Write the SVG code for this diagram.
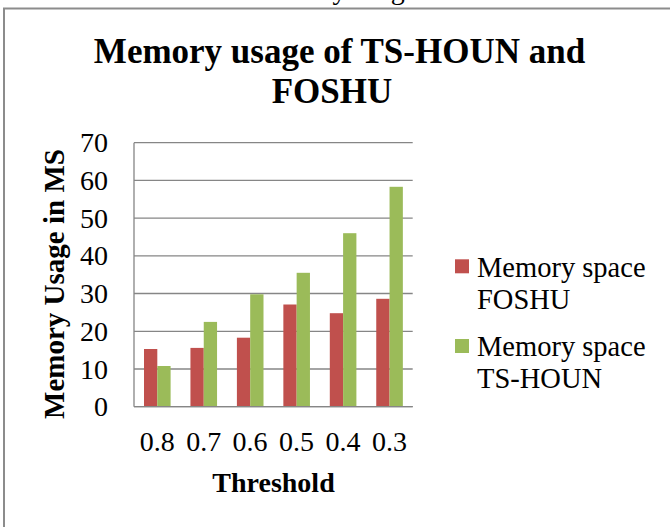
<svg xmlns="http://www.w3.org/2000/svg" width="670" height="527" viewBox="0 0 670 527">
<style>
.t{font-family:"Liberation Serif","Times New Roman",serif;fill:#000}
.b{font-weight:bold}
.grid{stroke:#868686;stroke-width:1.3;fill:none}
.red{fill:#C0504D}
.green{fill:#9BBB59}
</style>
<rect width="670" height="527" fill="#fff"/>
<text class="t" x="250" y="-1.5" font-size="28">Memory usage</text>
<rect x="0" y="8.5" width="670" height="519" fill="#fff"/>
<path d="M4,540 V8.5 H680" fill="none" stroke="#8c8c8c" stroke-width="2"/>
<g id="title">
<text class="t b" x="339.5" y="63" font-size="35" text-anchor="middle">Memory usage of TS-HOUN and</text>
<text class="t b" x="332" y="103" font-size="35" text-anchor="middle">FOSHU</text>
</g>
<g id="gridlines">
<path class="grid" d="M134,142.7H412.7M134,180.4H412.7M134,218.1H412.7M134,255.8H412.7M134,293.5H412.7M134,331.3H412.7M134,369H412.7M134,406.7H412.7M134,142.7V406.7"/>
</g>
<g id="y-labels" class="t" font-size="28" text-anchor="end">
<text x="108" y="152.2">70</text>
<text x="108" y="189.9">60</text>
<text x="108" y="227.6">50</text>
<text x="108" y="265.3">40</text>
<text x="108" y="303">30</text>
<text x="108" y="340.8">20</text>
<text x="108" y="378.5">10</text>
<text x="108" y="416.2">0</text>
</g>
<g id="series-foshu" class="red">
<rect x="144" y="349.0" width="13.3" height="57.7"/>
<rect x="190.45" y="347.9" width="13.3" height="58.8"/>
<rect x="236.9" y="337.7" width="13.3" height="69.0"/>
<rect x="283.35" y="304.5" width="13.3" height="102.2"/>
<rect x="329.8" y="313.2" width="13.3" height="93.5"/>
<rect x="376.25" y="298.8" width="13.3" height="107.9"/>
</g>
<g id="series-tshoun" class="green">
<rect x="157.3" y="366.0" width="13.3" height="40.7"/>
<rect x="203.75" y="321.9" width="13.3" height="84.8"/>
<rect x="250.2" y="294.3" width="13.3" height="112.4"/>
<rect x="296.65" y="272.8" width="13.3" height="133.9"/>
<rect x="343.1" y="233.2" width="13.3" height="173.5"/>
<rect x="389.55" y="186.8" width="13.3" height="219.9"/>
</g>
<g id="x-axis"><path class="grid" d="M134,406.7H412.7"/></g>
<g id="x-labels" class="t" font-size="28" text-anchor="middle">
<text x="157.2" y="450.5">0.8</text>
<text x="203.7" y="450.5">0.7</text>
<text x="250.1" y="450.5">0.6</text>
<text x="296.6" y="450.5">0.5</text>
<text x="343" y="450.5">0.4</text>
<text x="389.5" y="450.5">0.3</text>
</g>
<g id="x-title"><text class="t b" x="273.5" y="491.5" font-size="28" text-anchor="middle">Threshold</text></g>
<g id="y-title"><text class="t b" font-size="29" text-anchor="middle" transform="translate(64,284) rotate(-90)">Memory Usage in MS</text></g>
<g id="legend">
<g id="legend-foshu">
<rect class="red" x="455" y="259.3" width="14" height="14"/>
<text class="t" x="477" y="276.7" font-size="28.5">Memory space</text>
<text class="t" x="477" y="309.3" font-size="28.5">FOSHU</text>
</g>
<g id="legend-tshoun">
<rect class="green" x="455" y="339" width="14" height="14"/>
<text class="t" x="477" y="355.5" font-size="28.5">Memory space</text>
<text class="t" x="477" y="388.3" font-size="28.5">TS-HOUN</text>
</g>
</g>
</svg>
